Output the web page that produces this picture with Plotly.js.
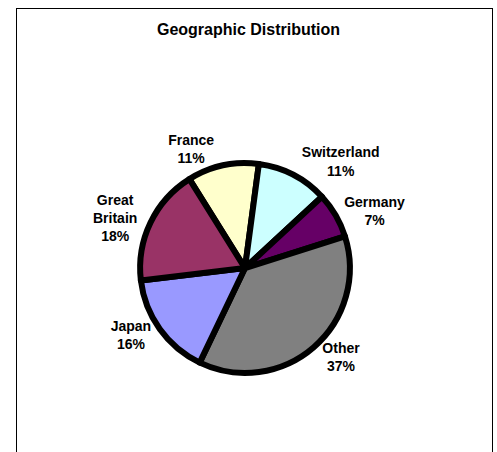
<!DOCTYPE html>
<html><head><meta charset="utf-8">
<script src="https://cdn.plot.ly/plotly-3.0.1.min.js"></script>
<style>
body{margin:0;background:#fff;}
#chart{width:497px;height:452px;}
#frame{position:absolute;left:16px;top:8px;width:475px;height:470px;border:1px solid #000;pointer-events:none;}
</style></head>
<body>
<div id="chart"></div>
<div id="frame"></div>
<script>
const labels = ["France", "Switzerland", "Germany", "Other", "Japan", "Great<br>Britain"];
const values = [11, 11, 7, 37, 16, 18];
const colors = ["#FFFFCC", "#CCFFFF", "#660066", "#808080", "#9999FF", "#993366"];

Plotly.newPlot("chart", [{
  type: "pie",
  labels: labels,
  values: values,
  sort: false,
  direction: "clockwise",
  rotation: -32,
  marker: {colors: colors, line: {color: "#000", width: 6}},
  textinfo: "label+percent",
  texttemplate: "<b>%{label}<br>%{percent:.0%}</b>",
  textposition: "outside",
  outsidetextfont: {family: "Liberation Sans", size: 14, color: "#000"},
  hoverinfo: "none",
  domain: {x: [0.2817, 0.7042], y: [0.175, 0.639]}
}], {
  width: 497, height: 452,
  margin: {l: 0, r: 0, t: 0, b: 0},
  showlegend: false,
  paper_bgcolor: "#fff",
  title: {text: "<b>Geographic Distribution</b>", x: 0.5, xanchor: "center", y: 0.934, yanchor: "middle",
          font: {family: "Liberation Sans", size: 16, color: "#000"}}
}, {displayModeBar: false, staticPlot: true});
</script>
</body></html>
